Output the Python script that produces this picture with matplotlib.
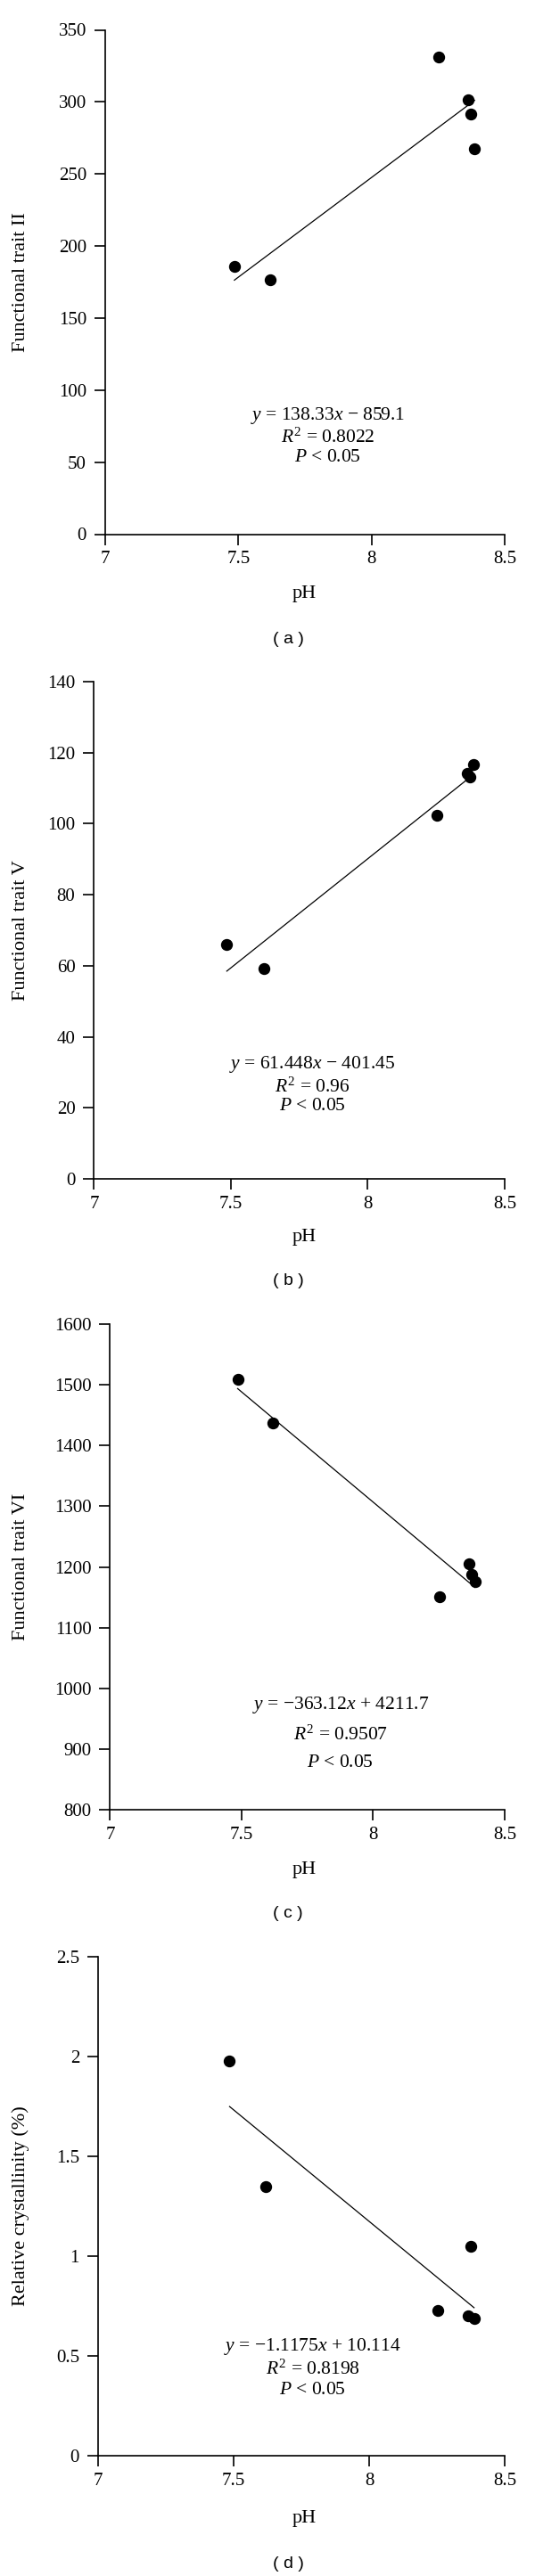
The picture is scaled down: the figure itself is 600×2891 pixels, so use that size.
import matplotlib
matplotlib.use("Agg")
import matplotlib.pyplot as plt

# pH of the six samples (same in every panel)
ph = [7.485, 7.62, 8.252, 8.364, 8.374, 8.387]

trait_ii = [185.6, 176.4, 331.3, 301.4, 291.6, 267.7]
trait_v = [65.9, 59.1, 102.4, 114.2, 113.2, 116.7]
trait_vi = [1508.5, 1437.4, 1150.5, 1205.8, 1188.0, 1176.4]
crystallinity = [1.978, 1.348, 0.728, 0.699, 1.048, 0.686]

slopes = [138.33, 61.448, -363.12, -1.1175]
intercepts = [-859.1, -401.45, 4211.7, 10.114]
r2 = ["0.8022", "0.96", "0.9507", "0.8198"]
eq_text = [r"$y$ = 138.33$x$ − 859.1",
           r"$y$ = 61.448$x$ − 401.45",
           r"$y$ = −363.12$x$ + 4211.7",
           r"$y$ = −1.1175$x$ + 10.114"]

ylabels = ["Functional trait II", "Functional trait V",
           "Functional trait VI", "Relative crystallinity (%)"]
yticks = [[0, 50, 100, 150, 200, 250, 300, 350],
          [0, 20, 40, 60, 80, 100, 120, 140],
          [800, 900, 1000, 1100, 1200, 1300, 1400, 1500, 1600],
          [0, 0.5, 1, 1.5, 2, 2.5]]
yticklabels = [["0", "50", "100", "150", "200", "250", "300", "350"],
               ["0", "20", "40", "60", "80", "100", "120", "140"],
               ["800", "900", "1000", "1100", "1200", "1300", "1400", "1500", "1600"],
               ["0", "0.5", "1", "1.5", "2", "2.5"]]
xticks = [7, 7.5, 8, 8.5]
xticklabels = ["7", "7.5", "8", "8.5"]
captions = ["( a )", "( b )", "( c )", "( d )"]
series = [trait_ii, trait_v, trait_vi, crystallinity]

plt.rcParams['font.family'] = ['Liberation Serif', 'DejaVu Serif']
plt.rcParams['mathtext.fontset'] = 'custom'
plt.rcParams['mathtext.rm'] = 'Liberation Serif'
plt.rcParams['mathtext.it'] = 'Liberation Serif:italic'

W, H = 600, 2891
fig = plt.figure(figsize=(W / 100, H / 100), dpi=100)

# axes boxes in pixels: left, top, bottom  (right edge is 566 everywhere)
RIGHT = 566
boxes = [(118, 33.5, 599.5), (105.4, 765, 1323), (123.4, 1486, 2031), (110, 2196, 2756)]
# annotation: x centre (data), baselines of the three lines (data)
notes = [(7.836, [79.6, 63.6, 50.2]),
         (7.798, [31.2, 24.5, 19.2]),
         (7.876, [965.3, 915.5, 871]),
         (7.792, [0.528, 0.406, 0.310])]
ph_y = [666.7, 1388, 2098, 2826]
cap_y = [717, 1438, 2148, 2877]

for i in range(4):
    left, top, bottom = boxes[i]
    ax = fig.add_axes([left / W, 1 - bottom / H, (RIGHT - left) / W, (bottom - top) / H])
    ax.plot(ph, series[i], linestyle='none', marker='o', ms=8.6, color='black')
    x0, x1 = min(ph), max(ph)
    ax.plot([x0, x1], [slopes[i] * x0 + intercepts[i], slopes[i] * x1 + intercepts[i]],
            color='black', lw=0.9)
    ax.set_xlim(7, 8.5)
    ax.set_ylim(yticks[i][0], yticks[i][-1])
    ax.set_xticks(xticks)
    ax.set_xticklabels(xticklabels)
    ax.set_yticks(yticks[i])
    ax.set_yticklabels(yticklabels[i])
    for s in ['top', 'right']:
        ax.spines[s].set_visible(False)
    ax.spines['left'].set_linewidth(1.2)
    ax.spines['bottom'].set_linewidth(1.2)
    ax.tick_params(axis='y', direction='out', length=8.6, width=1.2, pad=6.5, labelsize=15)
    ax.tick_params(axis='x', direction='out', length=8.6, width=1.2, pad=5, labelsize=15)
    ax.set_ylabel(ylabels[i], fontsize=16)
    ax.yaxis.set_label_coords((33 - left) / (RIGHT - left), 0.5)

    nx, ny = notes[i]
    ax.text(nx, ny[0], eq_text[i], ha='center', va='baseline', fontsize=15.5)
    ax.text(nx, ny[1], r"$R^2$ = " + r2[i], ha='center', va='baseline', fontsize=15.5)
    ax.text(nx, ny[2], r"$P$ < 0.05", ha='center', va='baseline', fontsize=15.5)

    fig.text(341 / W, 1 - ph_y[i] / H, "pH", ha='center', va='center', fontsize=16)
    fig.text(323 / W, 1 - cap_y[i] / H, captions[i], ha='center', va='center',
             fontsize=14, family='Liberation Sans')

fig.savefig("out.png", dpi=100)
